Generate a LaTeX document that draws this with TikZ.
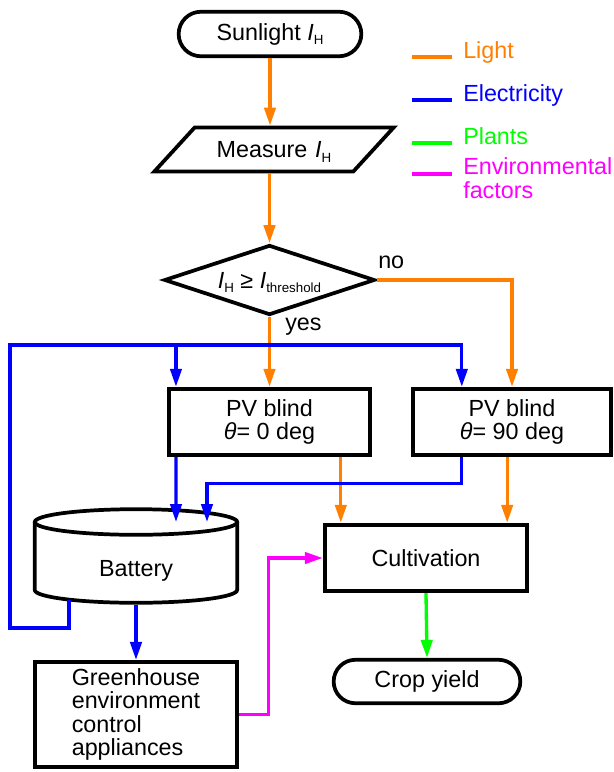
\documentclass[tikz,border=0pt]{standalone}
\usepackage{fontspec}
\setmainfont{Liberation Sans}
\usepackage{tikz}
\usetikzlibrary{
  arrows.meta, positioning, calc, shapes.geometric, shapes.misc
}
\definecolor{lightA}{HTML}{FF8000}
\definecolor{elecA}{HTML}{0000FF}
\definecolor{plantA}{HTML}{00FF00}
\definecolor{envA}{HTML}{FF00FF}
\newcommand{\lowsub}[1]{\raisebox{-3.5pt}[0pt][0pt]{\fontsize{10}{10}\selectfont #1}}
\tikzset{
  outline/.style={
    draw=black, line width=2.8pt, align=center, inner sep=0pt
  },
  terminal/.style={outline, rounded rectangle, minimum width=#1, minimum height=33.4pt},
  inout/.style={
    outline, trapezium, trapezium left angle=47.5, trapezium right angle=132.5,
    text width=119pt, text height=12pt, text depth=0pt, inner xsep=0pt, inner ysep=10.5pt
  },
  decision/.style={outline, diamond, aspect=2.9, minimum width=158pt, minimum height=52.5pt},
  procbox/.style={outline, rectangle, minimum width=#1, minimum height=50pt},
  flow/.style={-{Triangle[length=13.5pt, width=8.5pt]}, line width=2.5pt},
  light/.style={flow, draw=lightA},
  elec/.style={flow, draw=elecA},
  plant/.style={flow, draw=plantA},
  envf/.style={flow, draw=envA},
  legline/.style={line width=2.5pt, draw=#1},
  legtext/.style={text=#1, inner sep=0pt, anchor=base west, align=left},
  tag/.style={inner sep=0pt, anchor=base west}
}

\begin{document}
\begin{tikzpicture}[x=0.75pt, y=-0.75pt, font=\fontsize{17.5}{17.5}\selectfont]
  \useasboundingbox (0,0) rectangle (614,772);
  % flow chart
  \node[terminal=137pt] (sun) at (270,34) {Sunlight \textit{I}\lowsub{H}};
  \node[inout] (measure) at (274,149.5) {Measure \textit{I}\lowsub{H}};
  \node[decision] (check) at (269.5,280) {\textit{I}\lowsub{H} ≥ \textit{I}\lowsub{threshold}};
  \node[tag] (noLbl) at (378,268) {no};
  \node[tag] (yesLbl) at (285,330) {yes};
  \node[procbox=151pt] (pvA) at (269.5,422) {PV blind\\\textit{θ}= 0 deg};
  \node[procbox=149pt] (pvB) at (512,422) {PV blind\\\textit{θ}= 90 deg};
  \node[procbox=152pt] (cult) at (426,558) {Cultivation};
  \node[terminal=140pt, minimum height=32.6pt] (crop) at (427,681.5) {Crop yield};
  \node[inner sep=0pt, outer sep=0pt, minimum width=151.9pt, minimum height=51pt] (bat) at (136,571) {Battery};
  \node[procbox=152pt, minimum height=79pt, align=left] (ghouse) at (136,714.5) {Greenhouse\\environment\\control\\appliances};

  % battery drum
  \draw[line width=2.8pt] ($(bat.north)+(0,-15)$) ellipse [x radius=75.9pt, y radius=9.6pt];
  \draw[line width=2.8pt] ($(bat.north west)+(0,-15)$) -- ($(bat.south west)+(0,-15)$)
    arc[start angle=180, end angle=360, x radius=75.9pt, y radius=9.6pt]
    -- ($(bat.north east)+(0,-15)$);

  % legend
  \node[legtext=lightA] (lgLight) at (463,58) {Light};
  \node[legtext=elecA] (lgElec) at (463,101) {Electricity};
  \node[legtext=plantA] (lgPlant) at (463,144) {Plants};
  \node[legtext=envA] (lgEnv) at (463,198) {Environmental\\factors};
  \draw[legline=lightA] ($(lgLight.base west)+(-51,-1)$) -- ++(40,0);
  \draw[legline=elecA] ($(lgElec.base west)+(-51,-1)$) -- ++(40,0);
  \draw[legline=plantA] ($(lgPlant.base west)+(-51,-1)$) -- ++(40,0);
  \draw[legline=envA] ($(lgEnv.base west)+(-51,-24)$) -- ++(40,0);

  % light
  \coordinate (cA) at ($(cult.north west)+(18,0)$);
  \coordinate (cB) at ($(cult.north east)+(-22,0)$);
  \draw[light] (sun.south) -- (sun.south |- measure.north);
  \draw[light] (check.north |- measure.south) -- (check.north);
  \draw[light] (check.south) -- (pvA.north);
  \draw[light] (check.east) -| (pvB.north);
  \draw[light] (pvA.south -| cA) -- (cA);
  \draw[light] (pvB.south -| cB) -- (cB);

  % electricity
  \coordinate (busL) at (10,345);
  \coordinate (loopB) at (10,628);
  \coordinate (pvAin) at ($(pvA.north west)+(9,0)$);
  \coordinate (pvBin) at ($(pvB.north west)+(51,0)$);
  \coordinate (batL) at ($(bat.south)+(-67,-5)$);
  \coordinate (batA) at ($(bat.north)+(40,-15)$);
  \coordinate (batB) at ($(bat.north)+(71,-15)$);
  \draw[elec] (batL) |- (loopB) -- (busL) -| (pvBin);
  \draw[elec] (busL -| pvAin) -- (pvAin);
  \draw[elec] ($(pvA.south west)+(9,0)$) -- (batA);
  \draw[elec] ($(pvB.south west)+(51,0)$) -- ++(0,26) -| (batB);
  \draw[elec] (bat.south) -- (ghouse.north);

  % plants and environment
  \draw[plant] (cult.south) -- (crop.north);
  \draw[envf] (ghouse.east) -- ++(29,0) |- (cult.west);
\end{tikzpicture}
\end{document}
